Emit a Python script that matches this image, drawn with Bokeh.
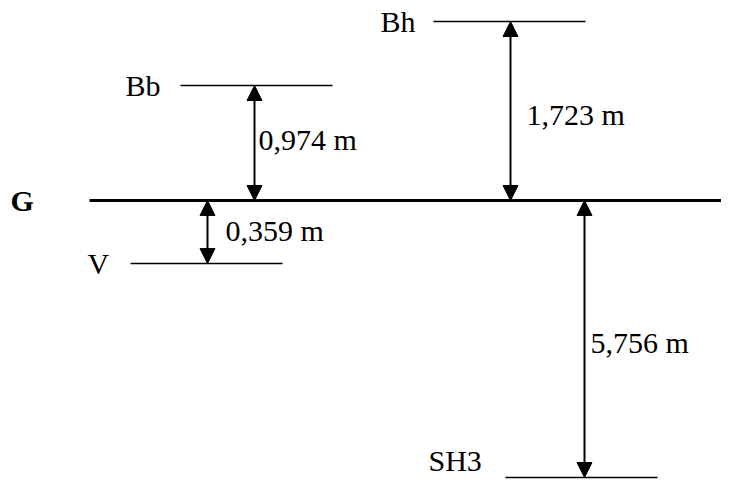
from bokeh.plotting import figure
from bokeh.models import ColumnDataSource, Range1d, Arrow, NormalHead
from bokeh.core.properties import value
from bokeh.embed import file_html
from bokeh.resources import INLINE

# ---- data ----
level_names = ["Bh", "Bb", "G", "V", "SH3"]
distance_labels = ["1,723 m", "0,974 m", "0,359 m", "5,756 m"]
distance_values = [1.723, 0.974, 0.359, 5.756]
distance_from = ["G", "G", "G", "G"]
distance_to = ["Bh", "Bb", "V", "SH3"]

# ---- schematic layout (not to scale) ----
level_y = {"Bh": 27, "Bb": 91, "G": 206, "V": 269, "SH3": 483}
level_x0 = {"Bh": 433, "Bb": 180, "G": 89, "V": 130, "SH3": 505}
level_x1 = {"Bh": 585, "Bb": 332, "G": 737, "V": 282, "SH3": 657}
level_lw = {"Bh": 1.6, "Bb": 1.6, "G": 3.2, "V": 1.6, "SH3": 1.6}
name_pos = {"Bh": (380, 39), "Bb": (125, 103), "G": (10, 218), "V": (87, 281), "SH3": (428, 478)}
arrow_x = {"Bh": 510, "Bb": 254, "V": 207, "SH3": 584}
label_pos = {"Bh": (526, 132), "Bb": (258, 157), "V": (225, 248), "SH3": (590, 360)}

W, H = 721, 479
TOP = 6
TXT_DY = -12

p = figure(width=W, height=H, output_backend="svg", toolbar_location=None,
           x_range=Range1d(0, W), y_range=Range1d(TOP + H, TOP),
           x_axis_type=None, y_axis_type=None, min_border=0,
           outline_line_color=None, background_fill_color="white")
p.xgrid.visible = False
p.ygrid.visible = False

# level lines
lines = ColumnDataSource(dict(
    x0=[level_x0[n] for n in level_names], x1=[level_x1[n] for n in level_names],
    y=[level_y[n] for n in level_names], lw=[level_lw[n] for n in level_names]))
p.segment(x0="x0", y0="y", x1="x1", y1="y", line_width="lw", line_color="black", source=lines)

# level names
font = value("Liberation Serif")
normal = [n for n in level_names if n != "G"]
p.text(x=[name_pos[n][0] for n in normal], y=[name_pos[n][1] for n in normal], text=normal,
       text_font=font, text_font_size="30px", text_color="black", y_offset=TXT_DY,
       text_align="left", text_baseline="alphabetic")
p.text(x=[name_pos["G"][0]], y=[name_pos["G"][1]], text=["G"],
       text_font=font, text_font_size="30px", text_font_style="bold", text_color="black",
       y_offset=TXT_DY, text_align="left", text_baseline="alphabetic")

# dimension arrows
arr = ColumnDataSource(dict(
    xs=[arrow_x[t] for t in distance_to], ys=[level_y[f] for f in distance_from],
    xe=[arrow_x[t] for t in distance_to], ye=[level_y[t] for t in distance_to]))
p.add_layout(Arrow(x_start="xs", y_start="ys", x_end="xe", y_end="ye", source=arr,
                   line_width=2, line_color="black",
                   start=NormalHead(size=15, fill_color="black", line_color="black", line_width=1),
                   end=NormalHead(size=15, fill_color="black", line_color="black", line_width=1)))

# distance labels
p.text(x=[label_pos[t][0] for t in distance_to], y=[label_pos[t][1] for t in distance_to],
       text=distance_labels, text_font=font, text_font_size="30px", text_color="black",
       y_offset=TXT_DY, text_align="left", text_baseline="alphabetic")

open("out.html", "w").write(file_html(p, INLINE))
